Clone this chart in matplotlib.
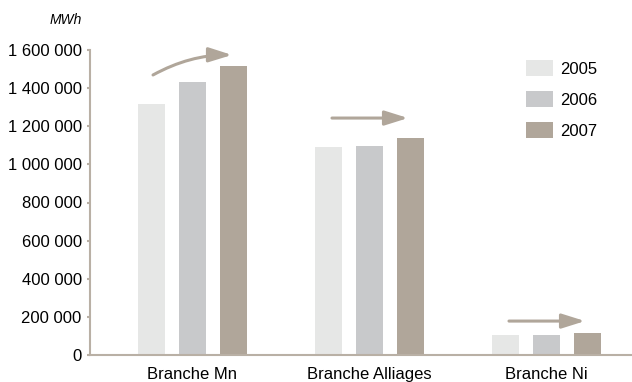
import matplotlib
matplotlib.use("Agg")
import matplotlib.pyplot as plt
import numpy as np

categories = ["Branche Mn", "Branche Alliages", "Branche Ni"]
years = ["2005", "2006", "2007"]
values_2005 = [1317000, 1091000, 105000]
values_2006 = [1434000, 1096000, 105000]
values_2007 = [1518000, 1140000, 115000]
yticks = [0, 200000, 400000, 600000, 800000, 1000000, 1200000, 1400000, 1600000]
ytick_labels = ["0", "200 000", "400 000", "600 000", "800 000",
                "1 000 000", "1 200 000", "1 400 000", "1 600 000"]

colors = ["#e6e7e6", "#c8c9cb", "#b0a69a"]
axis_color = "#b9b0a5"
arrow_color = "#b0a69a"

plt.rcParams["font.family"] = ["Liberation Sans", "DejaVu Sans"]
FS = 12

fig = plt.figure(figsize=(6.32, 3.82), dpi=100)
ax = fig.add_axes([90 / 632, 27 / 382, 542 / 632, 305 / 382])

x = np.arange(len(categories))
width = 0.153
pitch = 0.232
series = [values_2005, values_2006, values_2007]
handles = []
for i, (vals, col) in enumerate(zip(series, colors)):
    h = ax.bar(x + (i - 1) * pitch, vals, width=width, color=col, label=years[i])
    handles.append(h)

ax.set_xlim(-0.579, 2.483)
ax.set_ylim(0, 1600000)
ax.set_yticks(yticks)
ax.set_yticklabels(ytick_labels, fontsize=FS)
ax.set_xticks(x)
ax.set_xticklabels(categories, fontsize=FS)

for side in ["top", "right"]:
    ax.spines[side].set_visible(False)
for side in ["left", "bottom"]:
    ax.spines[side].set_color(axis_color)
    ax.spines[side].set_linewidth(1.5)
ax.tick_params(axis="y", length=2, width=1.5, color=axis_color, pad=4)
ax.tick_params(axis="x", length=0, pad=8.5)

fig.text(82 / 632, 1 - 20 / 382, "MWh", ha="right", va="center",
         fontsize=10, style="italic")

# trend arrows above each group
def trend_arrow(x0, y0, x1, y1, rad=0.0):
    ax.annotate("", xy=(x1, y1), xytext=(x0, y0),
                arrowprops=dict(arrowstyle="-|>,head_length=0.7,head_width=0.22",
                                mutation_scale=20, lw=2.2, color=arrow_color,
                                shrinkA=0, shrinkB=0,
                                connectionstyle=f"arc3,rad={rad}"),
                annotation_clip=False)

trend_arrow(-0.223, 1469000, 0.223, 1574000, rad=-0.13)
trend_arrow(1 - 0.212, 1243000, 1 + 0.2175, 1243000)
trend_arrow(2 - 0.212, 178000, 2 + 0.2175, 178000)

leg = ax.legend(handles=handles, loc="upper left",
                bbox_to_anchor=(526 / 632, 1 - 60 / 382),
                bbox_transform=fig.transFigure,
                frameon=False, fontsize=FS, handlelength=1.62, handleheight=1.08,
                handletextpad=0.45, labelspacing=0.88, borderaxespad=0, borderpad=0)

fig.savefig("out.png", dpi=100)
